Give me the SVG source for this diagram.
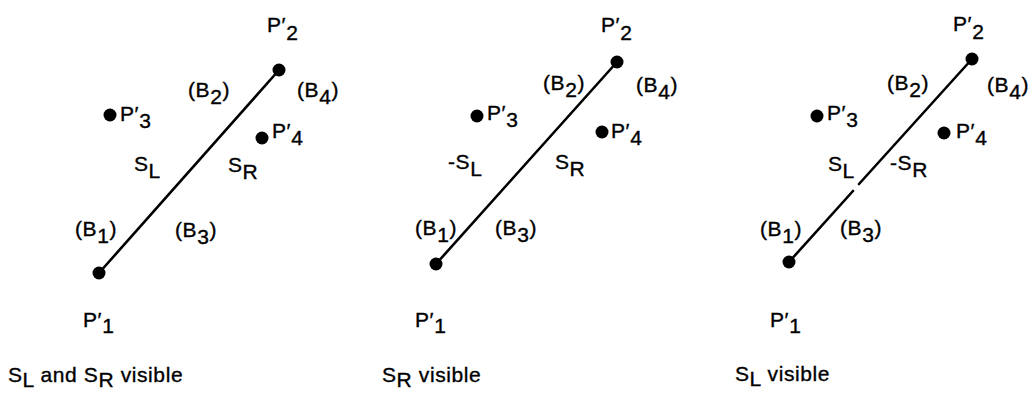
<svg xmlns="http://www.w3.org/2000/svg" width="1034" height="401" viewBox="0 0 1034 401">
<style>
.t{font-family:"Liberation Sans",Arial,sans-serif;font-size:21px;letter-spacing:0.6px;fill:#000;stroke:#000;stroke-width:0.35px}
.dot{fill:#000}
.seg{stroke:#000;stroke-width:2.6;stroke-linecap:round;fill:none}
</style>
<rect width="1034" height="401" fill="#fff"/>
<g id="connectors">
<line class="seg" x1="99" y1="273" x2="279" y2="70"/>
<line class="seg" x1="436" y1="264" x2="617" y2="62"/>
<line class="seg" x1="789" y1="262" x2="853" y2="191"/>
<line class="seg" x1="859" y1="184" x2="972" y2="59"/>
</g>
<g id="panel1">
<g id="p1-P1"><circle class="dot" cx="99" cy="273" r="6.5"/><text class="t" x="83" y="327">P′<tspan dy="6">1</tspan></text></g>
<g id="p1-P2"><circle class="dot" cx="279" cy="70" r="6.5"/><text class="t" x="267" y="32">P′<tspan dy="8">2</tspan></text></g>
<g id="p1-P3"><circle class="dot" cx="110" cy="115" r="6.5"/><text class="t" x="120" y="121">P′<tspan dy="7">3</tspan></text></g>
<g id="p1-P4"><circle class="dot" cx="262" cy="138" r="6.5"/><text class="t" x="272" y="138">P′<tspan dy="7">4</tspan></text></g>
<g id="p1-labels">
<text class="t" x="188" y="97">(B<tspan dy="7">2</tspan><tspan dy="-7">)</tspan></text>
<text class="t" x="297" y="97">(B<tspan dy="7">4</tspan><tspan dy="-7">)</tspan></text>
<text class="t" x="134" y="171">S<tspan dy="7">L</tspan></text>
<text class="t" x="228" y="172">S<tspan dy="7">R</tspan></text>
<text class="t" x="75" y="236">(B<tspan dy="7">1</tspan><tspan dy="-7">)</tspan></text>
<text class="t" x="175" y="237">(B<tspan dy="7">3</tspan><tspan dy="-7">)</tspan></text>
<text class="t" x="8" y="382">S<tspan dy="5">L</tspan><tspan dy="-5"> and S</tspan><tspan dy="5">R</tspan><tspan dy="-5"> visible</tspan></text>
</g>
</g>
<g id="panel2">
<g id="p2-P1"><circle class="dot" cx="436" cy="264" r="6.5"/><text class="t" x="415" y="327">P′<tspan dy="6">1</tspan></text></g>
<g id="p2-P2"><circle class="dot" cx="617" cy="62" r="6.5"/><text class="t" x="601" y="32">P′<tspan dy="8">2</tspan></text></g>
<g id="p2-P3"><circle class="dot" cx="477" cy="116" r="6.5"/><text class="t" x="487" y="120">P′<tspan dy="7">3</tspan></text></g>
<g id="p2-P4"><circle class="dot" cx="602" cy="132" r="6.5"/><text class="t" x="611" y="138">P′<tspan dy="7">4</tspan></text></g>
<g id="p2-labels">
<text class="t" x="543" y="90">(B<tspan dy="7">2</tspan><tspan dy="-7">)</tspan></text>
<text class="t" x="636" y="92">(B<tspan dy="7">4</tspan><tspan dy="-7">)</tspan></text>
<text class="t" x="448" y="169">-S<tspan dy="7">L</tspan></text>
<text class="t" x="555" y="169">S<tspan dy="7">R</tspan></text>
<text class="t" x="415" y="235">(B<tspan dy="7">1</tspan><tspan dy="-7">)</tspan></text>
<text class="t" x="495" y="235">(B<tspan dy="7">3</tspan><tspan dy="-7">)</tspan></text>
<text class="t" x="382" y="382">S<tspan dy="5">R</tspan><tspan dy="-5"> visible</tspan></text>
</g>
</g>
<g id="panel3">
<g id="p3-P1"><circle class="dot" cx="789" cy="262" r="6.5"/><text class="t" x="770" y="327">P′<tspan dy="6">1</tspan></text></g>
<g id="p3-P2"><circle class="dot" cx="972" cy="59" r="6.5"/><text class="t" x="953" y="31">P′<tspan dy="8">2</tspan></text></g>
<g id="p3-P3"><circle class="dot" cx="817" cy="116" r="6.5"/><text class="t" x="827" y="120">P′<tspan dy="7">3</tspan></text></g>
<g id="p3-P4"><circle class="dot" cx="944" cy="133" r="6.5"/><text class="t" x="956" y="138">P′<tspan dy="7">4</tspan></text></g>
<g id="p3-labels">
<text class="t" x="887" y="90">(B<tspan dy="7">2</tspan><tspan dy="-7">)</tspan></text>
<text class="t" x="987" y="92">(B<tspan dy="7">4</tspan><tspan dy="-7">)</tspan></text>
<text class="t" x="828" y="171">S<tspan dy="7">L</tspan></text>
<text class="t" x="890" y="170">-S<tspan dy="7">R</tspan></text>
<text class="t" x="760" y="236">(B<tspan dy="7">1</tspan><tspan dy="-7">)</tspan></text>
<text class="t" x="840" y="235">(B<tspan dy="7">3</tspan><tspan dy="-7">)</tspan></text>
<text class="t" x="735" y="381">S<tspan dy="5">L</tspan><tspan dy="-5"> visible</tspan></text>
</g>
</g>
</svg>
